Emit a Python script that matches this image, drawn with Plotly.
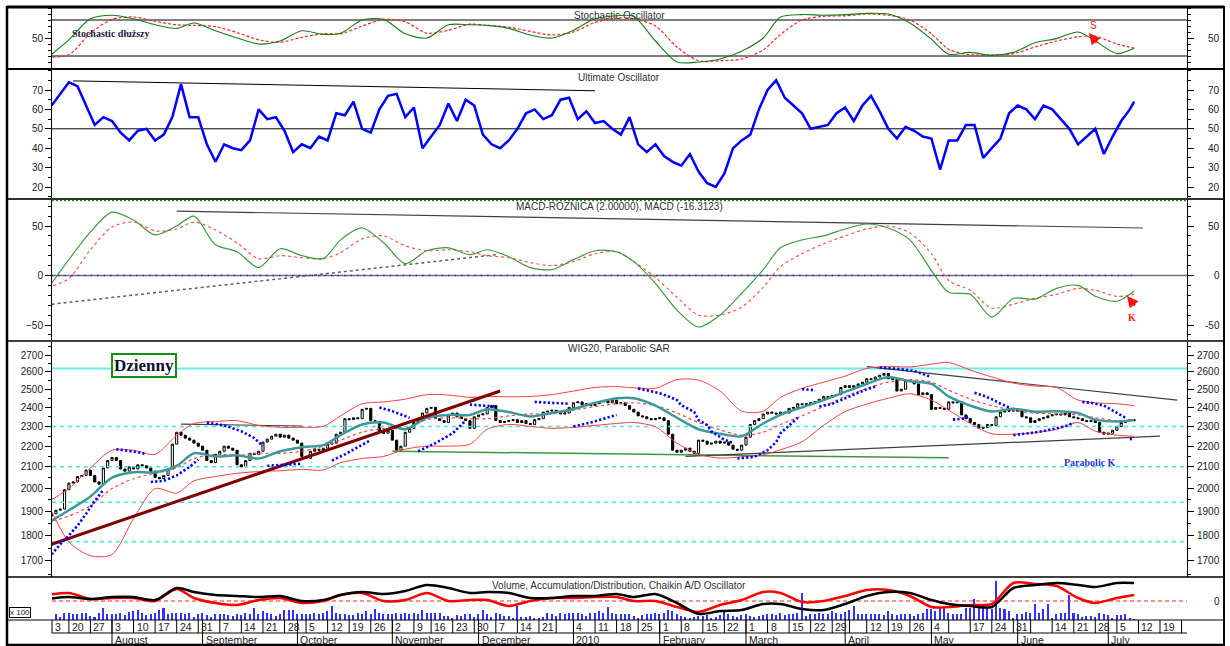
import numpy as np
import pandas as pd
import plotly.graph_objects as go

W, H = 1230, 646

# ---------------- trading calendar (WSE) ----------------
holidays = ["2009-11-11", "2009-12-25", "2010-01-01", "2010-04-02",
            "2010-04-05", "2010-05-03", "2010-06-03"]
cal = pd.bdate_range("2009-07-13", "2010-07-30")
cal = cal[~cal.isin(pd.to_datetime(holidays))]
day_no = {d.strftime("%Y-%m-%d"): i for i, d in enumerate(cal)}

week_start = ["2009-07-13", "2009-07-20", "2009-07-27", "2009-08-03", "2009-08-10", "2009-08-17",
              "2009-08-24", "2009-08-31", "2009-09-07", "2009-09-14", "2009-09-21", "2009-09-28",
              "2009-10-05", "2009-10-12", "2009-10-19", "2009-10-26", "2009-11-02", "2009-11-09",
              "2009-11-16", "2009-11-23", "2009-11-30", "2009-12-07", "2009-12-14", "2009-12-21",
              "2009-12-28", "2010-01-04", "2010-01-11", "2010-01-18", "2010-01-25", "2010-02-01",
              "2010-02-08", "2010-02-15", "2010-02-22", "2010-03-01", "2010-03-08", "2010-03-15",
              "2010-03-22", "2010-03-29", "2010-04-06", "2010-04-12", "2010-04-19", "2010-04-26",
              "2010-05-04", "2010-05-10", "2010-05-17", "2010-05-24", "2010-05-31", "2010-06-07",
              "2010-06-14", "2010-06-21", "2010-06-28", "2010-07-05", "2010-07-12", "2010-07-19",
              "2010-07-26"]
week_label = ["3", "20", "27", "3", "10", "17", "24", "31", "7", "14", "21", "28", "5", "12", "19",
              "26", "2", "9", "16", "23", "30", "7", "14", "21", "", "4", "11", "18", "25", "1", "8",
              "15", "22", "1", "8", "15", "22", "29", "", "12", "19", "26", "4", "", "17", "24", "31",
              "", "14", "21", "28", "5", "12", "19", ""]
month_start = ["2009-08-03", "2009-09-01", "2009-10-01", "2009-11-02", "2009-12-01", "2010-01-04",
               "2010-02-01", "2010-03-01", "2010-04-01", "2010-05-04", "2010-06-01", "2010-07-01"]
month_label = ["August", "September", "October", "November", "December", "2010",
               "February", "March", "April", "May", "June", "July"]

# ---------------- daily data (trading days 1..252) ----------------
close = [1890, 1905, 1910, 1995,
         2025, 2030, 2055, 2060, 2085, 2060, 2030, 2020, 2095, 2130,
         2145, 2130, 2090, 2080, 2100, 2090, 2110, 2105, 2095, 2080,
         2050, 2045, 2060, 2090, 2210, 2270, 2255, 2240, 2230,
         2215, 2200, 2180, 2130, 2120, 2160, 2175, 2200, 2190, 2180,
         2110, 2100, 2130, 2165, 2160, 2175, 2220, 2235, 2250, 2260,
         2245, 2255, 2240, 2230, 2215, 2150, 2140, 2175, 2185, 2180,
         2190, 2210, 2215, 2260, 2270,
         2340, 2335, 2345, 2340, 2390, 2395, 2330, 2325, 2270,
         2265, 2280, 2230, 2180, 2200, 2270, 2290, 2320, 2330, 2370,
         2395, 2400, 2340, 2330, 2320, 2360, 2370, 2350, 2340, 2330,
         2290, 2350, 2360, 2365, 2400, 2410,
         2330, 2320, 2325, 2330, 2335, 2320, 2330, 2315,
         2310, 2335, 2340, 2375, 2380, 2385, 2375, 2365, 2370, 2400,
         2425, 2430, 2415, 2420, 2410, 2420, 2430, 2435, 2425, 2440,
         2420, 2425, 2410, 2390, 2375, 2355, 2350,
         2340, 2335, 2340, 2345, 2330, 2260, 2180,
         2170, 2180, 2190, 2175, 2165, 2230, 2225, 2210, 2215, 2225,
         2215, 2220, 2205, 2185, 2180, 2205, 2245, 2310, 2330, 2340,
         2365, 2375, 2370, 2365, 2375, 2370, 2395, 2400,
         2420, 2415, 2420, 2425, 2430, 2445, 2460, 2455, 2465, 2470, 2510,
         2520, 2510, 2520, 2530, 2540, 2560, 2555, 2570, 2580, 2590,
         2560, 2555, 2490, 2500, 2550, 2545, 2530, 2470, 2480, 2470,
         2390, 2400, 2395, 2390,
         2430, 2425, 2430, 2360, 2340, 2320, 2310, 2290, 2295, 2310,
         2305, 2350, 2375, 2385, 2380, 2390, 2380, 2350, 2345, 2320,
         2330, 2340, 2345, 2355, 2360, 2365, 2360, 2370, 2350, 2345,
         2340, 2330, 2325, 2330, 2320,
         2270, 2260, 2265, 2280, 2300, 2320, 2330, 2335, 2330]
first_open = 1880
volume = [11, 6, 3, 7, 7, 6, 6, 7, 7, 4, 3, 7, 12, 6, 6, 6, 7, 5, 8, 9, 10, 7, 5, 6,
          7, 10, 12, 6, 7, 7, 7, 6, 7,
          3, 6, 7, 5, 3, 6, 6, 6, 5, 4, 6, 5, 7, 6, 12, 6, 9, 7, 6, 4,
          6, 10, 10, 10, 6, 6, 6, 6, 7, 6, 7, 9, 14, 7, 6,
          6, 5, 5, 7, 6, 9, 6, 11, 7, 6, 6, 6, 7, 6, 7, 6, 7, 6, 10,
          7, 7, 7, 7, 4, 4, 2, 5, 4, 6, 6, 3, 6, 10, 6, 3,
          7, 6, 4, 4, 2, 14, 3, 3, 4, 2, 2, 3, 7, 6, 4, 7, 6, 7,
          7, 7, 6, 4, 7, 7, 9, 7, 13, 7, 6, 6, 6, 6, 4, 2, 5,
          6, 6, 7, 6, 7, 10, 9, 6, 4, 3, 2, 3, 4, 4, 5, 2, 3,
          5, 10, 6, 4, 3, 5, 6, 4, 3, 4, 5, 6, 6, 5, 7, 5, 6, 6,
          7, 27, 4, 6, 6, 7, 6, 6, 9, 7, 6, 8, 10, 14, 6, 6,
          6, 6, 6, 6, 5, 9, 6, 5, 6, 6, 6, 4, 6, 7, 11, 11, 9, 12, 13,
          7, 6, 6, 6, 12, 12, 21, 13, 16, 12, 11, 39, 12, 11, 9,
          2, 6, 6, 8, 7, 16, 7, 11, 16, 2, 6, 7, 7, 25, 7, 6, 3, 4, 4, 3,
          7, 6, 5, 2, 5, 5, 6, 2, 1]

# ---------------- weekly read-offs (trading day numbers) ----------------
sample_day = [0, 5, 10, 15, 20, 25, 30, 34, 39, 44, 49, 54, 59, 64, 68, 73, 78, 83, 88, 93,
              98, 102, 107, 112, 117, 122, 127, 132, 136, 141, 146, 151, 156, 161, 166, 170,
              175, 180, 185, 190, 195, 200, 205, 209, 214, 219, 224, 229, 234, 239, 243, 248, 252]
ma_fast = [1850, 1905, 1965, 2050, 2075, 2075, 2105, 2165, 2150, 2155, 2140, 2175, 2195, 2205,
           2255, 2310, 2320, 2285, 2345, 2360, 2360, 2390, 2375, 2352, 2370, 2392, 2425, 2450,
           2450, 2410, 2345, 2285, 2262, 2250, 2315, 2360, 2400, 2440, 2485, 2530, 2570, 2545,
           2530, 2460, 2410, 2378, 2393, 2377, 2380, 2370, 2335, 2325, 2333]
ma_slow = [1855, 1880, 1925, 2000, 2045, 2070, 2095, 2140, 2160, 2155, 2165, 2165, 2175, 2200,
           2230, 2270, 2290, 2290, 2335, 2345, 2340, 2340, 2355, 2365, 2365, 2385, 2405, 2420,
           2425, 2410, 2370, 2320, 2282, 2255, 2270, 2310, 2355, 2405, 2460, 2505, 2540, 2555,
           2540, 2495, 2445, 2410, 2385, 2370, 2365, 2360, 2345, 2330, 2330]
bb_upper = [1940, 2000, 2095, 2180, 2180, 2160, 2255, 2315, 2325, 2330, 2305, 2295, 2295, 2300,
            2355, 2420, 2430, 2445, 2470, 2468, 2455, 2460, 2458, 2460, 2470, 2490, 2510, 2515,
            2508, 2505, 2555, 2552, 2490, 2380, 2380, 2455, 2505, 2540, 2575, 2620, 2632, 2628,
            2645, 2655, 2610, 2570, 2535, 2518, 2510, 2440, 2425, 2420, 2410]
bb_lower = [1940, 1775, 1720, 1725, 1870, 2000, 1980, 2035, 2055, 2070, 2078, 2082, 2088, 2085,
            2120, 2140, 2150, 2185, 2200, 2200, 2210, 2285, 2310, 2300, 2290, 2295, 2305, 2315,
            2320, 2298, 2215, 2160, 2142, 2148, 2158, 2182, 2222, 2305, 2378, 2418, 2450, 2475,
            2440, 2385, 2315, 2262, 2260, 2268, 2285, 2320, 2275, 2255, 2250]
stoch_k = [17, 47, 82, 88, 82, 72, 66, 75, 62, 50, 40, 45, 62, 56, 58, 80, 81, 57, 50, 72,
           72, 71, 66, 55, 50, 63, 82, 87, 86, 45, 10, 10, 15, 28, 50, 85, 89, 88, 89, 91,
           90, 75, 48, 23, 26, 21, 26, 42, 49, 60, 45, 24, 33]
stoch_d = [18, 22, 58, 81, 85, 78, 72, 71, 69, 59, 47, 43, 51, 57, 57, 70, 81, 77, 58, 63,
           73, 71, 68, 61, 55, 60, 76, 83, 82, 70, 35, 12, 12, 15, 30, 56, 80, 86, 87, 90,
           88, 80, 57, 31, 22, 22, 24, 35, 45, 52, 53, 40, 33]
macd = [-14, 16, 44, 64, 56, 41, 50, 60, 31, 24, 8, 27, 20, 17, 36, 48, 33, 12, 25, 28,
        21, 26, 19, 8, 6, 16, 25, 24, 14, -8, -35, -52, -40, -18, 6, 28, 36, 40, 47, 52,
        48, 36, 5, -17, -19, -42, -23, -24, -13, -10, -21, -26, -16]
macd_signal = [-12, -3, 26, 49, 54, 45, 47, 54, 46, 33, 17, 20, 18, 17, 23, 37, 40, 30, 25, 26,
               24, 20, 18, 13, 10, 14, 22, 24, 14, -2, -22, -40, -40, -32, -12, 9, 22, 32, 40, 47,
               50, 43, 22, -5, -15, -33, -29, -23, -19, -13, -15, -21, -19]
acc_dist = [2, 4, 2, 4, 4, 1, 13, 9, 6, 5, 4, 5, 0, 1, 6, 9, 7, 10, 16, 13, 8, 9, 8, 3, 3, 5,
            5, 7, 4, 7, -2, -13, -10, -9, -3, -3, -8, -9, -3, 5, 9, 8, 1, -3, -5, -6, 13, 16,
            18, 16, 14, 18, 18]
chaikin = [6, 8, 2, 3, 3, 0, 12, 3, -2, -4, 1, 3, -2, 0, 6, 8, 0, 1, 8, 0, 1, 1, -5, 0, 3, 3,
           4, 4, 0, 0, -6, -11, -4, 1, 9, 8, -1, 0, 5, 11, 11, 5, -6, -6, -4, -3, 18, 17, 15, 3,
           -2, 3, 6]

# Ultimate oscillator, read every second trading day
uo_day = list(range(1, 252, 2)) + [252]
ultimate = [62, 68, 74, 72, 62, 52, 56, 54, 48, 44, 49, 50, 44, 47, 56, 73, 56, 56, 42, 33, 42, 40, 39, 44,
            60, 55, 56, 49, 38, 42, 40, 46, 44, 58, 57, 64, 50, 48, 60, 67, 68, 56, 61, 40, 46, 52, 63,
            54, 65, 62, 47, 42, 40, 44, 50, 58, 60, 55, 57,
            65, 66, 55, 59, 53, 54, 50, 47, 56, 42, 38, 42, 36, 33, 31, 37, 28, 22, 20, 27, 40, 44, 47,
            60, 70, 75, 66, 62, 58, 50, 51, 52, 58, 61, 54, 62, 67,
            59, 50, 45, 51, 49, 46, 45, 29, 44, 44, 52, 52, 35, 40, 45, 58, 62, 60, 55, 62, 60, 55, 50,
            42, 46, 50, 37, 46, 54, 60, 64]

# Parabolic SAR runs: (trading day, value)
sar_runs = [
    [(1, 1725), (3, 1765), (5, 1800), (7, 1840), (9, 1890), (11, 1945), (13, 1995)],
    [(16, 2185), (19, 2178), (21, 2170), (23, 2160)],
    [(24, 2030), (27, 2035), (30, 2060), (33, 2100), (35, 2135)],
    [(37, 2320), (41, 2305), (45, 2275), (48, 2240), (50, 2200)],
    [(51, 2105), (55, 2110), (59, 2115)],
    [(66, 2130), (69, 2160), (72, 2195), (75, 2230)],
    [(77, 2400), (80, 2380), (84, 2345)],
    [(86, 2175), (90, 2215), (94, 2265), (97, 2330)],
    [(98, 2415), (101, 2412), (104, 2405)],
    [(113, 2430), (117, 2425), (121, 2420)],
    [(122, 2300), (126, 2320), (129, 2340), (132, 2360)],
    [(137, 2505), (139, 2495), (142, 2477), (144, 2460), (146, 2440), (147, 2412), (150, 2376),
     (151, 2333), (153, 2307), (154, 2274), (156, 2248), (157, 2232), (159, 2216)],
    [(160, 2140), (164, 2148), (167, 2180), (169, 2220), (170, 2265), (172, 2305), (174, 2345)],
    [(175, 2500), (178, 2495)],
    [(179, 2405), (182, 2420), (186, 2460), (190, 2500), (192, 2515)],
    [(193, 2625), (197, 2618), (201, 2605), (205, 2570)],
    [(210, 2335), (212, 2340), (214, 2350)],
    [(215, 2480), (217, 2465), (219, 2445), (221, 2420), (223, 2400)],
    [(224, 2255), (227, 2262), (230, 2272), (233, 2285), (236, 2300), (238, 2318)],
    [(240, 2430), (242, 2425), (245, 2410), (247, 2385), (248, 2370), (250, 2345)],
    [(251, 2235), (252, 2240)],
]

# trend lines: ((day, value), (day, value))
price_trend_up = [(1, 1765), (105, 2490)]
price_top_flat = [(31, 2312), (59, 2302)]
price_support_green = [(80, 2175), (209, 2143)]
price_support_gray = [(148, 2150), (258, 2250)]
price_resist_gray = [(190, 2630), (262, 2440)]
uo_trend = [(6, 74.7), (127, 69.6)]
macd_resist = [(30, 65), (254, 48)]
macd_support = [(1, -29), (104, 21)]
cyan_solid = [2620]
cyan_dashed = [2300, 2100, 1940, 1775]

# ---------------- geometry ----------------
X0, X1 = 52, 1187
PX_DAY, X_DAY0 = 4.3128, 47.3
xr = [(X0 - X_DAY0) / PX_DAY, (X1 - X_DAY0) / PX_DAY]


def yp(px):
    return 1 - px / H


def xp(px):
    return px / W


panels = {"stoch": (7, 69), "uo": (69, 199), "macd": (199, 341), "price": (341, 577), "vol": (577, 620)}


def dom(name):
    t, b = panels[name]
    return [yp(b), yp(t)]


days = list(range(1, len(close) + 1))
opens = [first_open] + close[:-1]
highs = [max(o, c) for o, c in zip(opens, close)]
lows = [min(o, c) for o, c in zip(opens, close)]

fig = go.Figure()

TXT = "Liberation Sans"
SER = "Liberation Serif"


def line_tr(x, y, yaxis, color, width=1, dash=None, shape="linear"):
    fig.add_trace(go.Scatter(x=x, y=y, yaxis=yaxis, mode="lines",
                             line=dict(color=color, width=width, dash=dash, shape=shape, smoothing=0.8),
                             hoverinfo="skip"))


full = [xr[0], xr[1]]

# ---- stochastic ----
for lvl in (80, 20):
    line_tr(full, [lvl, lvl], "y2", "black", 1)
line_tr(sample_day, stoch_d, "y2", "#ff2020", 1.2, "3px,2px", "spline")
line_tr(sample_day, stoch_k, "y2", "#108010", 1.1, None, "spline")

# ---- ultimate oscillator ----
line_tr(full, [50, 50], "y3", "black", 1)
line_tr([p[0] for p in uo_trend], [p[1] for p in uo_trend], "y3", "black", 1)
line_tr(uo_day, ultimate, "y3", "#0000ff", 2.5)

# ---- MACD ----
line_tr(full, [0, 0], "y4", "#707070", 1.5)
line_tr([1, 252], [0, 0], "y4", "#2020ff", 1.5, "1.5px,5px")
line_tr([p[0] for p in macd_resist], [p[1] for p in macd_resist], "y4", "#404040", 1.2)
line_tr([p[0] for p in macd_support], [p[1] for p in macd_support], "y4", "#606060", 1.5, "3px,3px")
line_tr(sample_day, macd_signal, "y4", "#ff5050", 1.2, "3px,3px", "spline")
line_tr(sample_day, macd, "y4", "#3a9a3a", 1.2, None, "spline")

# ---- price ----
for lvl in cyan_solid:
    line_tr(full, [lvl, lvl], "y", "#66f0f0", 2)
for lvl in cyan_dashed:
    line_tr(full, [lvl, lvl], "y", "#40e8e8", 1.5, "4px,4px")
line_tr([p[0] for p in price_support_green], [p[1] for p in price_support_green], "y", "#3a9a3a", 1.5)
line_tr([p[0] for p in price_support_gray], [p[1] for p in price_support_gray], "y", "#404040", 1.2)
line_tr([p[0] for p in price_resist_gray], [p[1] for p in price_resist_gray], "y", "#404040", 1.2)
line_tr([p[0] for p in price_top_flat], [p[1] for p in price_top_flat], "y", "#404040", 1.2)
line_tr(sample_day, bb_upper, "y", "#ff4040", 1, None, "spline")
line_tr(sample_day, bb_lower, "y", "#ff4040", 1, None, "spline")
line_tr(sample_day, ma_slow, "y", "#ff4040", 1.2, "3px,3px", "spline")
line_tr(sample_day, ma_fast, "y", "#3a9a9a", 2.5, None, "spline")
line_tr([p[0] for p in price_trend_up], [p[1] for p in price_trend_up], "y", "#800000", 3)

sx, sy = [], []
for run in sar_runs:
    sx += [p[0] for p in run] + [None]
    sy += [p[1] for p in run] + [None]
line_tr(sx, sy, "y", "#0000ff", 2.6, "2.2px,2.2px")

fig.add_trace(go.Candlestick(
    x=days, open=opens, high=highs, low=lows, close=close, yaxis="y",
    increasing=dict(line=dict(color="black", width=1), fillcolor="white"),
    decreasing=dict(line=dict(color="black", width=1), fillcolor="black"),
    whiskerwidth=0, hoverinfo="skip"))

# ---- volume panel ----
fig.add_trace(go.Bar(x=days, y=volume, yaxis="y6", width=0.35,
                     marker=dict(color="#3030ff", line=dict(width=0)), hoverinfo="skip"))
line_tr(full, [0, 0], "y7", "#ff2020", 1.2, "4px,3px")
line_tr(sample_day, chaikin, "y7", "#ff0000", 2.5, None, "spline")
line_tr(sample_day, acc_dist, "y7", "black", 2.5, None, "spline")

# ---------------- axes ----------------
tickfont = dict(family=TXT, size=10, color="#202020")
base_axis = dict(showgrid=False, zeroline=False, showline=True, linecolor="black", linewidth=1,
                 mirror="ticks", ticks="outside", ticklen=6, tickcolor="black", tickfont=tickfont,
                 anchor="x", fixedrange=True)
hidden_axis = dict(showgrid=False, zeroline=False, showline=False, ticks="", showticklabels=False,
                   anchor="x", fixedrange=True, overlaying="y5", domain=dom("vol"))

lp = np.log10
fig.update_layout(
    width=W, height=H, margin=dict(l=0, r=0, t=0, b=0),
    paper_bgcolor="white", plot_bgcolor="rgba(0,0,0,0)", showlegend=False,
    xaxis=dict(domain=[xp(X0), xp(X1)], range=xr, visible=False, rangeslider=dict(visible=False),
               fixedrange=True),
    yaxis=dict(base_axis, domain=dom("price"), type="log",
               range=[lp(2700) - (577 - 355) / 1025, lp(2700) + (355 - 341) / 1025],
               tickvals=list(range(1700, 2701, 100)),
               minor=dict(tickvals=list(range(1650, 2800, 100)), ticks="outside", ticklen=3,
                          tickcolor="black")),
    yaxis2=dict(base_axis, domain=dom("stoch"), range=[20 - 13 / 0.6, 80 + 13 / 0.6],
                tickvals=[50], minor=dict(dtick=10, ticks="outside", ticklen=3, tickcolor="black")),
    yaxis3=dict(base_axis, domain=dom("uo"), range=[20 - 12 / 1.94, 70 + 21 / 1.94],
                tickvals=[20, 30, 40, 50, 60, 70],
                minor=dict(dtick=5, ticks="outside", ticklen=3, tickcolor="black")),
    yaxis4=dict(base_axis, domain=dom("macd"), range=[-50 - 16 / 0.99, 50 + 27 / 0.99],
                tickvals=[-50, 0, 50], minor=dict(dtick=10, ticks="outside", ticklen=3,
                                                  tickcolor="black")),
    yaxis5=dict(base_axis, domain=dom("vol"), range=[-10 / 13 * 50000, 50000 + 20 / 13 * 50000],
                tickvals=[0, 50000], tickformat="d",
                minor=dict(dtick=25000, ticks="outside", ticklen=3, tickcolor="black")),
    yaxis6=dict(hidden_axis, range=[0, 43]),
    yaxis7=dict(hidden_axis, range=[-19, 24]),
    bargap=0,
)

# ---------------- annotations ----------------
ann = []


def text(x, y, s, size=10, color="#303030", family=TXT, xanchor="center", yanchor="middle", **kw):
    ann.append(dict(x=x, y=y, xref="paper", yref="paper", text=s, showarrow=False,
                    font=dict(family=family, size=size, color=color),
                    xanchor=xanchor, yanchor=yanchor, **kw))


# panel titles
text(xp(619), yp(15), "Stochastic Oscillator", 10)
text(xp(619), yp(77), "Ultimate Oscillator", 10)
text(xp(619), yp(207), "MACD-ROZNICA (2.00000), MACD (-16.3123)", 10)
text(xp(619), yp(348), "WIG20, Parabolic SAR", 10)
text(xp(619), yp(585), "Volume, Accumulation/Distribution, Chaikin A/D Oscillator", 10)


# right-side tick labels (right aligned)
def right_labels(yref, vals, conv=lambda v: v):
    for v in vals:
        ann.append(dict(x=xp(1222), y=conv(v), xref="paper", yref=yref, text=str(v),
                        showarrow=False, xanchor="right", yanchor="middle", font=tickfont))


right_labels("y2", [50])
right_labels("y3", [20, 30, 40, 50, 60, 70])
right_labels("y4", [-50, 0, 50])
right_labels("y", list(range(1700, 2701, 100)), conv=lambda v: float(np.log10(v)))
right_labels("y7", [0])

# labels inside panels
text(xp(70), yp(34), "<b>Stochastic dłuższy</b>", 10, "#1a1a40", SER, xanchor="left")
ann.append(dict(x=xp(144), y=yp(365), xref="paper", yref="paper", text="<b>Dzienny</b>",
                showarrow=False, font=dict(family=SER, size=17, color="#101030"),
                bordercolor="#109010", borderwidth=2, borderpad=1, bgcolor="white",
                xanchor="center", yanchor="middle"))
text(xp(1062), yp(462), "<b>Parabolic K</b>", 10, "#3030d0", SER, xanchor="left")
text(xp(1093), yp(25), "S", 10, "#ff2020")
ann.append(dict(x=xp(1089), y=yp(33), xref="paper", yref="paper", text="", showarrow=True,
                ax=9, ay=11, arrowhead=2, arrowsize=0.9, arrowwidth=2.5, arrowcolor="#ff1010"))
ann.append(dict(x=xp(1127), y=yp(296), xref="paper", yref="paper", text="", showarrow=True,
                ax=9, ay=11, arrowhead=2, arrowsize=0.9, arrowwidth=2.5, arrowcolor="#ff1010"))
text(xp(1132), yp(317), "<b>K</b>", 10, "#ff2020", SER)
ann.append(dict(x=xp(20), y=yp(612), xref="paper", yref="paper", text="x 100", showarrow=False,
                font=dict(family=TXT, size=8, color="#202020"), bordercolor="black", borderwidth=1,
                borderpad=0, xanchor="center", yanchor="middle"))

# date axis labels
for d, lab in zip(week_start, week_label):
    n = day_no[d]
    if lab and xr[0] - 1.5 <= n < xr[1]:
        ann.append(dict(x=max(n, xr[0]), y=yp(627), xref="x", yref="paper", text=lab, showarrow=False,
                        xanchor="left", yanchor="middle", xshift=1,
                        font=dict(family=TXT, size=10.5, color="#202020")))
for d, lab in zip(month_start, month_label):
    ann.append(dict(x=day_no[d], y=yp(639.5), xref="x", yref="paper", text=lab, showarrow=False,
                    xanchor="left", yanchor="middle", xshift=1,
                    font=dict(family=TXT, size=10.5, color="#202020")))

# ---------------- frame & separators ----------------
shapes = []


def hl(ypx, x0, x1, color="black", width=1, dash=None):
    shapes.append(dict(type="line", xref="paper", yref="paper", x0=xp(x0), x1=xp(x1),
                       y0=yp(ypx), y1=yp(ypx), line=dict(color=color, width=width, dash=dash)))


def vl(xpx, y0, y1, color="black", width=1):
    shapes.append(dict(type="line", xref="paper", yref="paper", x0=xp(xpx), x1=xp(xpx),
                       y0=yp(y0), y1=yp(y1), line=dict(color=color, width=width)))


hl(7, 7, 1224, "black", 3)
hl(69, 7, 1224, "black", 2)
hl(199, 7, 1224, "#303030", 2)
hl(200.5, X0, X1, "#109010", 1.5, "2px,2px")
hl(341, 7, 1224, "#404040", 2)
hl(577, 7, 1224, "black", 1.5)
hl(620, 7, 1224, "black", 1)
hl(633, X0, X1, "black", 1)
hl(645, 7, 1224, "black", 2.5)
vl(7, 6, 646, "black", 2.5)
vl(1224, 6, 646, "black", 2)
vl(X0, 620, 633)

for d in week_start:
    n = day_no[d]
    if xr[0] < n < xr[1]:
        shapes.append(dict(type="line", xref="x", yref="paper", x0=n, x1=n, y0=yp(633), y1=yp(620),
                           line=dict(color="black", width=1)))
for d in month_start:
    n = day_no[d]
    shapes.append(dict(type="line", xref="x", yref="paper", x0=n, x1=n, y0=yp(645), y1=yp(620),
                       line=dict(color="black", width=1)))

fig.update_layout(annotations=ann, shapes=shapes)
fig.write_html("out.html", config={"displayModeBar": False},
               post_script="document.body.style.margin='0';")
